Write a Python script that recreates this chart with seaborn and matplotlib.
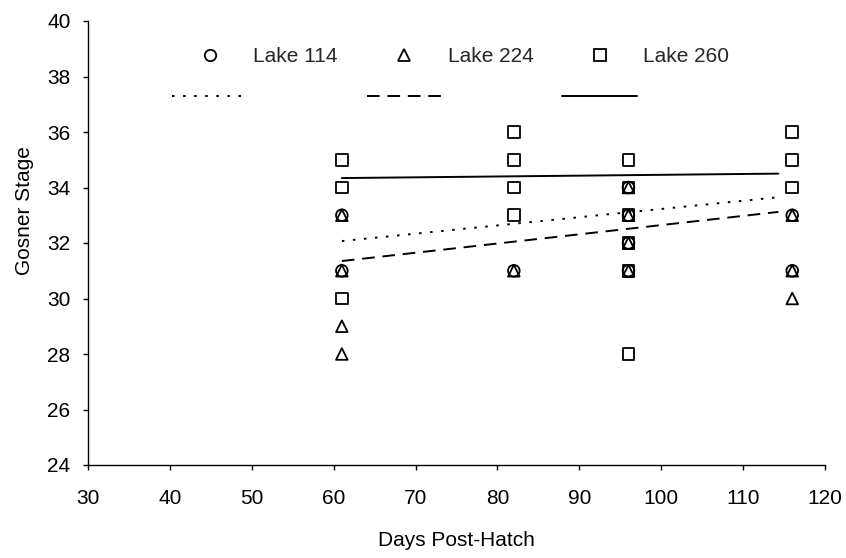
import numpy as np
import pandas as pd
import matplotlib
matplotlib.use("Agg")
import matplotlib.pyplot as plt
import seaborn as sns
from matplotlib.lines import Line2D

# ---- data ----
lakes = ["Lake 114", "Lake 224", "Lake 260"]

lake114_days = [61, 61, 82, 96, 96, 96, 96, 116, 116]
lake114_stage = [33, 31, 31, 34, 33, 32, 31, 33, 31]

lake224_days = [61, 61, 61, 61, 82, 96, 96, 96, 96, 116, 116, 116]
lake224_stage = [33, 31, 29, 28, 31, 34, 33, 32, 31, 33, 31, 30]

lake260_days = [61, 61, 61, 82, 82, 82, 82, 96, 96, 96, 96, 96, 96, 116, 116, 116]
lake260_stage = [35, 34, 30, 36, 35, 34, 33, 35, 34, 33, 32, 31, 28, 36, 35, 34]

trend_days = [61, 114.3]
trend_114 = [32.07, 33.65]
trend_224 = [31.35, 33.12]
trend_260 = [34.34, 34.50]

x_ticks = [30, 40, 50, 60, 70, 80, 90, 100, 110, 120]
y_ticks = [24, 26, 28, 30, 32, 34, 36, 38, 40]

# ---- style ----
sns.set_theme(style="ticks")
plt.rcParams["font.family"] = ["Liberation Sans", "DejaVu Sans"]
FS = 15

fig = plt.figure(figsize=(8.46, 5.58), dpi=100)
ax = fig.add_axes([88 / 846, 1 - 465 / 558, 737 / 846, 444 / 558])

pts = pd.DataFrame({
    "day": lake114_days + lake224_days + lake260_days,
    "stage": lake114_stage + lake224_stage + lake260_stage,
    "lake": [lakes[0]] * len(lake114_days) + [lakes[1]] * len(lake224_days)
            + [lakes[2]] * len(lake260_days),
})
markers = {lakes[0]: "o", lakes[1]: "^", lakes[2]: "s"}
sns.scatterplot(data=pts, x="day", y="stage", style="lake", markers=markers,
                s=70, facecolor="none", edgecolor="black", linewidth=1.3,
                legend=False, ax=ax, zorder=3)

trend = pd.DataFrame({
    "day": trend_days * 3,
    "stage": trend_114 + trend_224 + trend_260,
    "lake": [lakes[0]] * 2 + [lakes[1]] * 2 + [lakes[2]] * 2,
})
LW = 1.4
dash_styles = {lakes[0]: (1.3, 4.4), lakes[1]: (6.5, 4.0), lakes[2]: ""}
sns.lineplot(data=trend, x="day", y="stage", style="lake", dashes=dash_styles,
             color="black", linewidth=LW, legend=False, ax=ax, zorder=2)

ax.set_xlim(30, 120)
ax.set_ylim(24, 40)
ax.set_xticks(x_ticks)
ax.set_yticks(y_ticks)
sns.despine(ax=ax)
for sp in ["left", "bottom"]:
    ax.spines[sp].set_color("black")
    ax.spines[sp].set_linewidth(1.0)
ax.tick_params(axis="both", direction="out", length=3.6, width=1.0,
               color="black", labelcolor="black", labelsize=FS)
ax.tick_params(axis="x", pad=13.5)
ax.tick_params(axis="y", pad=9)

ax.set_xlabel("Days Post-Hatch", fontsize=FS, color="black", labelpad=16.5)
ax.set_ylabel("Gosner Stage", fontsize=FS, color="black")
ax.yaxis.set_label_coords(-0.073, 0.572)

# ---- legend: markers in the first row, trend lines in the second ----
handles, labels = [], []
for lk in lakes:
    handles.append(Line2D([], [], marker=markers[lk], ls="none", mfc="none",
                          mec="black", ms=8.2, mew=1.3))
    labels.append(lk)
    d = dash_styles[lk]
    ls = "-" if d == "" else (0, d)
    handles.append(Line2D([], [], ls=ls, color="black", lw=LW))
    labels.append(" ")
leg = ax.legend(handles, labels, ncol=3, loc="upper left",
                bbox_to_anchor=(0.114, 0.941), frameon=False, fontsize=FS,
                handlelength=3.6, handletextpad=0.29, columnspacing=1.39,
                labelspacing=1.06, borderpad=0, borderaxespad=0)

fig.savefig("out.png", dpi=100, facecolor="white")
